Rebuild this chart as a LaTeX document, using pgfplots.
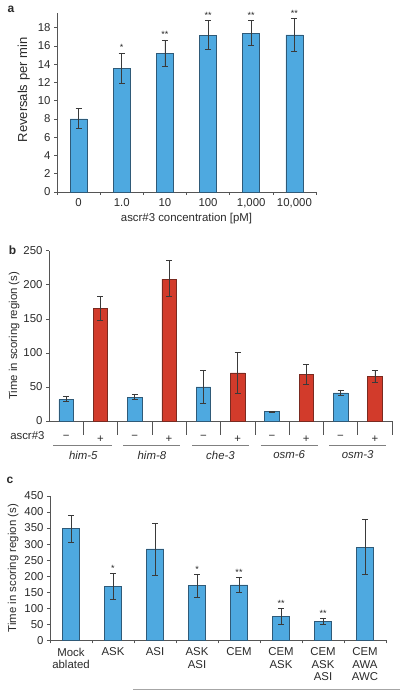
\documentclass[border=0pt]{standalone}
\usepackage{fontspec}
\setmainfont{Liberation Sans}
\usepackage{pgfplots}
\pgfplotsset{compat=1.18}
\usepackage{pgfplotstable}
\definecolor{barblue}{HTML}{4EA9E0}
\definecolor{baredge}{HTML}{2F5A78}
\definecolor{barred}{HTML}{D23B2B}
\definecolor{rededge}{HTML}{7A2A20}
\definecolor{axgray}{HTML}{555555}
\definecolor{errgray}{HTML}{3A3A3A}
\definecolor{txt}{HTML}{2A2A2A}
\newcommand{\fs}{\fontsize{11.4}{12.6}\selectfont}

\pgfplotstableread{
x y ep em
0 8.0 1.15 1.05
1 13.5 1.7 1.55
2 15.2 1.45 1.4
3 17.15 1.6 1.55
4 17.35 1.4 1.3
5 17.2 1.8 1.75
}\dataA
\pgfplotstableread{
x y lab
1 15.2 *
2 16.65 **
3 18.75 **
4 18.75 **
5 19.0 **
}\starsA

\pgfplotstableread{
x y ep em
0 31.5 4.3 3.0
2 34.9 3.9 3.5
4 50.0 24.0 23.5
6 13.8 0.8 0.8
8 41.2 4.4 3.8
}\dataBminus
\pgfplotstableread{
x y ep em
1 165.3 18.1 17.7
3 208.4 26.9 26.0
5 70.6 30.0 30.3
7 68.2 14.7 14.2
9 65.7 8.3 8.3
}\dataBplus

\pgfplotstableread{
x y ep em
0 349 41 42
1 169 40 40
2 285 80 82
3 171.5 34.5 37.5
4 172.5 23.5 22.8
5 73.7 24.9 25.0
6 58 9.4 9.3
7 289 88 83
}\dataC
\pgfplotstableread{
x y lab
1 209 *
3 206 *
4 196 **
5 98.6 **
6 67.4 **
}\starsC

\pgfplotsset{
  panel/.style={
    scale only axis, anchor=south west,
    axis lines=left, axis line style={-, draw=axgray, line width=0.6pt},
    tick align=outside, major tick length=3pt, minor tick length=3pt,
    tick style={draw=axgray, line width=0.6pt},
    major x tick style={draw=none},
    ymin=0, clip=false,
    tick label style={font=\fs, text=txt},
    label style={font=\fs, text=txt},
    /pgf/number format/assume math mode=true,
    /pgf/number format/1000 sep={},
  },
  bluebar/.style={ybar, bar shift=0pt, fill=barblue, draw=baredge, line width=0.6pt},
  redbar/.style={ybar, bar shift=0pt, fill=barred, draw=rededge, line width=0.6pt},
  errs/.style={error bars/.cd, y dir=both, y explicit,
    error bar style={color=errgray, line width=0.6pt},
    error mark options={rotate=90, mark size=3pt, color=errgray, line width=0.6pt}},
  starplot/.style={draw=none, mark=none, nodes near coords, point meta=explicit symbolic,
    nodes near coords style={font=\fontsize{9}{9}\selectfont, text=txt, inner sep=1pt, anchor=south, yshift=1pt}},
}

\begin{document}
\begin{tikzpicture}
\useasboundingbox (0,0) rectangle (400pt,690pt);

% ---------------- panel a ----------------
\begin{axis}[panel, at={(57pt,498pt)}, width=259pt, height=179pt,
  xmin=-0.5, xmax=5.5, ymax=19.6,
  xtick={0,...,5}, xticklabels={0,1.0,10,100,{1,000},{10,000}},
  minor xtick={-0.5,0.5,...,5.5},
  ytick={0,2,...,18},
  xlabel={ascr\#3 concentration [pM]},
  ylabel={Reversals per min},
  xlabel style={yshift=2pt},
  ylabel style={font=\fontsize{13}{14}\selectfont, at={(ticklabel cs:0.57)}, yshift=1pt}]
\addplot[bluebar, bar width=17pt, errs] table[x=x, y=y, y error plus=ep, y error minus=em] {\dataA};
\addplot[starplot] table[x=x, y=y, meta=lab] {\starsA};
\end{axis}

% ---------------- panel b ----------------
\begin{axis}[panel, at={(49pt,269pt)}, width=343pt, height=170.3pt,
  xmin=-0.5, xmax=9.5, ymax=250,
  xtick={0,...,9}, xticklabels={−,+,−,+,−,+,−,+,−,+},
  minor xtick={0.5,1.5,...,9.5}, minor tick length=14pt,
  xticklabel style={yshift=-8pt},
  ytick={0,50,...,250},
  ylabel={Time in scoring region (s)},
  ylabel style={yshift=-3pt}]
\addplot[bluebar, bar width=14.5pt, errs] table[x=x, y=y, y error plus=ep, y error minus=em] {\dataBminus};
\addplot[redbar, bar width=14.5pt, errs] table[x=x, y=y, y error plus=ep, y error minus=em] {\dataBplus};
\node[font=\fs, text=txt, anchor=east] at ([xshift=-1pt,yshift=-15pt]rel axis cs:0,0) {ascr\#3};
\draw[gray, line width=0.8pt] ([yshift=-24pt]axis cs:-0.37,0) -- ([yshift=-24pt]axis cs:1.33,0);
\draw[gray, line width=0.8pt] ([yshift=-24pt]axis cs:1.67,0) -- ([yshift=-24pt]axis cs:3.33,0);
\draw[gray, line width=0.8pt] ([yshift=-24pt]axis cs:3.67,0) -- ([yshift=-24pt]axis cs:5.33,0);
\draw[gray, line width=0.8pt] ([yshift=-24pt]axis cs:5.67,0) -- ([yshift=-24pt]axis cs:7.33,0);
\draw[gray, line width=0.8pt] ([yshift=-24pt]axis cs:7.67,0) -- ([yshift=-24pt]axis cs:9.33,0);
\node[font=\fs\itshape, text=txt] at ([yshift=-34pt]axis cs:0.5,0) {him-5};
\node[font=\fs\itshape, text=txt] at ([yshift=-34pt]axis cs:2.5,0) {him-8};
\node[font=\fs\itshape, text=txt] at ([yshift=-34pt]axis cs:4.5,0) {che-3};
\node[font=\fs\itshape, text=txt] at ([yshift=-34pt]axis cs:6.5,0) {osm-6};
\node[font=\fs\itshape, text=txt] at ([yshift=-34pt]axis cs:8.5,0) {osm-3};
\end{axis}

% ---------------- panel c ----------------
\begin{axis}[panel, at={(50pt,49.7pt)}, width=336pt, height=144.3pt,
  xmin=-0.5, xmax=7.5, ymax=450,
  xtick={0,...,7},
  xticklabels={{Mock\\ablated},ASK,ASI,{ASK\\ASI},CEM,{CEM\\ASK},{CEM\\ASK\\ASI},{CEM\\AWA\\AWC}},
  xticklabel style={align=center, anchor=north, yshift=-1pt},
  minor xtick={-0.5,0.5,...,7.5},
  ytick={0,50,...,450},
  ylabel={Time in scoring region (s)},
  ylabel style={yshift=-1pt}]
\addplot[bluebar, bar width=17.5pt, errs] table[x=x, y=y, y error plus=ep, y error minus=em] {\dataC};
\addplot[starplot] table[x=x, y=y, meta=lab] {\starsC};
\end{axis}

\draw[gray!70, line width=0.8pt] (133pt,1pt) -- (400pt,1pt);
\node[font=\fontsize{12}{12}\selectfont\bfseries, text=txt] at (11pt,681pt) {a};
\node[font=\fontsize{12}{12}\selectfont\bfseries, text=txt] at (12.5pt,440pt) {b};
\node[font=\fontsize{12}{12}\selectfont\bfseries, text=txt] at (10pt,210pt) {c};
\end{tikzpicture}
\end{document}
